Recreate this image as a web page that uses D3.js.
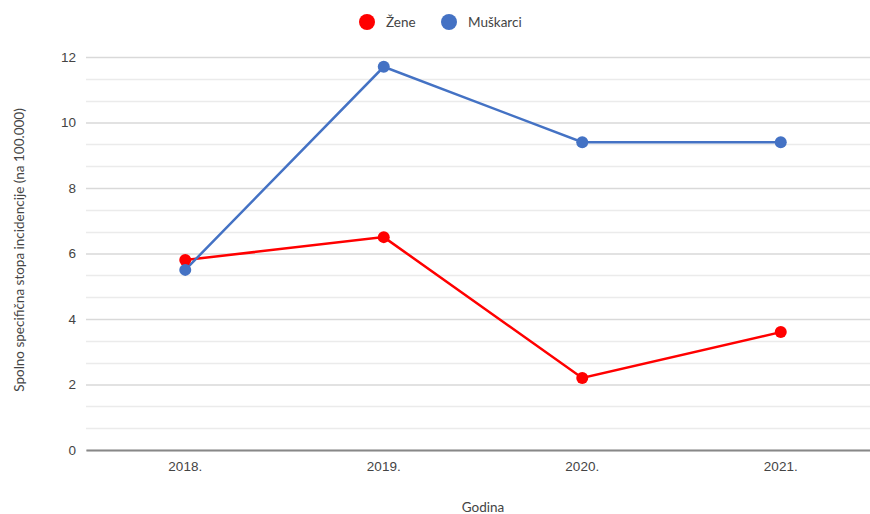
<!DOCTYPE html>
<html>
<head>
<meta charset="utf-8">
<script src="https://cdn.jsdelivr.net/npm/d3@7"></script>
<style>
  body { margin: 0; background: #fff; }
  svg { font-family: Lato, "Open Sans", sans-serif; }
</style>
</head>
<body>
<div id="chart"></div>
<script>
// Data
var years = ['2018.', '2019.', '2020.', '2021.'];
var zene = [5.8, 6.5, 2.2, 3.6];
var muskarci = [5.5, 11.7, 9.4, 9.4];
var yTicks = [0, 2, 4, 6, 8, 10, 12];
var seriesNames = ['Žene', 'Muškarci'];

var width = 870, height = 514;
var colours = {'Žene': '#ff0000', 'Muškarci': '#4472c4'};

var svg = d3.select('#chart')
            .append('svg')
            .attr('width', width)
            .attr('height', height);

// Scales
var x = d3.scaleBand()
          .domain(years)
          .range([86, 880]);

var y = d3.scaleLinear()
          .domain([0, 12])
          .range([450, 57]);

// Minor gridlines (3 per major interval)
var minor = d3.range(0, 12, 2 / 3).filter(function(v) {
  return Math.abs(v % 2) > 0.01 && Math.abs(v % 2 - 2) > 0.01;
});
svg.append('g')
   .selectAll('line')
   .data(minor)
   .enter()
   .append('line')
   .attr('x1', 86).attr('x2', width)
   .attr('y1', function(d) { return Math.round(y(d)) + 0.5; })
   .attr('y2', function(d) { return Math.round(y(d)) + 0.5; })
   .attr('stroke', '#ebebeb')
   .attr('stroke-width', 1.5);

// Major gridlines + y tick labels
var y_axis = d3.axisLeft(y)
               .tickValues(yTicks)
               .tickSizeInner(-(width - 86))
               .tickSizeOuter(0)
               .tickPadding(10);

var gy = svg.append('g')
            .attr('transform', 'translate(86,0)')
            .call(y_axis);
gy.select('.domain').remove();
gy.selectAll('.tick line')
  .attr('stroke', '#d9d9d9')
  .attr('stroke-width', 1.5);
gy.selectAll('.tick text')
  .attr('fill', '#444')
  .style('font-size', '13.5px');

// x axis
var x_axis = d3.axisBottom(x)
               .tickSize(0)
               .tickPadding(11);
var gx = svg.append('g')
            .attr('transform', 'translate(0,450)')
            .call(x_axis);
gx.select('.domain')
  .attr('stroke', '#888')
  .attr('stroke-width', 2);
gx.selectAll('.tick text')
  .attr('fill', '#444')
  .style('font-size', '13.5px');

// Axis titles
svg.append('text')
   .attr('transform', 'translate(24,' + 250 + ') rotate(-90)')
   .attr('text-anchor', 'middle')
   .attr('fill', '#444')
   .style('font-size', '13.5px')
   .text('Spolno specifična stopa incidencije (na 100.000)');

svg.append('text')
   .attr('x', 483)
   .attr('y', 512)
   .attr('text-anchor', 'middle')
   .attr('fill', '#444')
   .style('font-size', '13.5px')
   .text('Godina');

// Lines and points
var series = [
  {name: 'Žene', values: zene},
  {name: 'Muškarci', values: muskarci}
];

var line = d3.line()
             .x(function(d, i) { return x(years[i]) + x.bandwidth() / 2; })
             .y(function(d) { return y(d); });

series.forEach(function(s) {
  svg.append('path')
     .datum(s.values)
     .attr('fill', 'none')
     .attr('stroke', colours[s.name])
     .attr('stroke-width', 2.5)
     .attr('d', line);
});

series.forEach(function(s) {
  svg.append('g')
     .selectAll('circle')
     .data(s.values)
     .enter()
     .append('circle')
     .attr('cx', function(d, i) { return x(years[i]) + x.bandwidth() / 2; })
     .attr('cy', function(d) { return y(d); })
     .attr('r', 6)
     .attr('fill', colours[s.name]);
});

// Legend
var legendX = [367, 449];
var legend = svg.append('g')
                .selectAll('g')
                .data(seriesNames)
                .enter()
                .append('g')
                .attr('transform', function(d, i) { return 'translate(' + legendX[i] + ',22)'; });
legend.append('circle')
      .attr('r', 8)
      .attr('fill', function(d) { return colours[d]; });
legend.append('text')
      .attr('x', 19)
      .attr('dy', '0.35em')
      .attr('fill', '#444')
      .style('font-size', '13.5px')
      .text(function(d) { return d; });
</script>
</body>
</html>
